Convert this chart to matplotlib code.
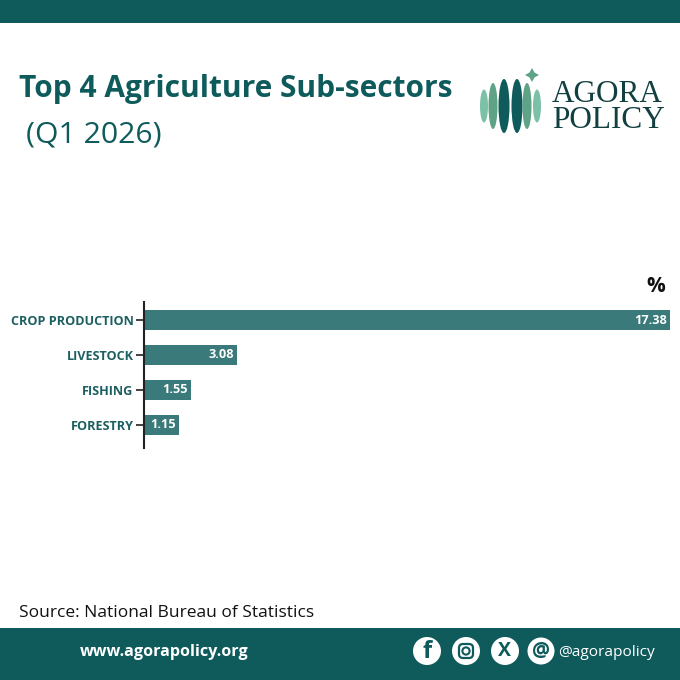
import matplotlib
matplotlib.use('Agg')
import matplotlib.pyplot as plt
from matplotlib.patches import Ellipse, Circle, Rectangle, FancyBboxPatch, Polygon

categories = ['CROP PRODUCTION', 'LIVESTOCK', 'FISHING', 'FORESTRY']
values = [17.38, 3.08, 1.55, 1.15]
value_labels = ['17.38', '3.08', '1.55', '1.15']

DARK = '#0f5b5c'
BAR = '#3a7a7a'
LABEL = '#1c5f60'
plt.rcParams['font.family'] = ['Open Sans', 'DejaVu Sans']

fig = plt.figure(figsize=(6.8, 6.8), dpi=100)

# page layer in pixel coordinates
bg = fig.add_axes([0, 0, 1, 1])
bg.set_xlim(0, 680)
bg.set_ylim(680, 0)
bg.axis('off')
bg.add_patch(Rectangle((0, 0), 680, 23, color=DARK, lw=0))
bg.add_patch(Rectangle((0, 628), 680, 52, color=DARK, lw=0))

bg.text(19, 89, 'Top 4 Agriculture Sub-sectors', fontsize=21.5, fontweight='bold',
        color=DARK, va='center', ha='left')
bg.text(26, 135, '(Q1 2026)', fontsize=21.7, color=DARK, va='center', ha='left')
bg.text(19, 613, 'Source: National Bureau of Statistics', fontsize=12.5,
        color='#111111', va='center', ha='left')
bg.text(80, 652, 'www.agorapolicy.org', fontsize=11.6, fontweight='bold',
        color='white', va='center', ha='left')
bg.text(558, 652, '@agorapolicy', fontsize=11.1, color='white', va='center', ha='left')

# logo
for x, w, h, c in [(484, 8, 33, '#7cc0a8'), (493, 9, 46, '#5fa386'), (504, 11, 54, '#0f5b5c'),
                   (517, 11, 54, '#0f5b5c'), (527, 9, 46, '#5fa386'), (537, 8, 33, '#7cc0a8')]:
    bg.add_patch(Ellipse((x, 106), w, h, color=c, lw=0))
bg.add_patch(Polygon([(532, 68), (534.5, 72.5), (539, 75), (534.5, 77.5), (532, 82),
                      (529.5, 77.5), (525, 75), (529.5, 72.5)], color='#5fa386', lw=0))
bg.text(552, 128, 'AGORA\nPOLICY', family='Liberation Serif', fontsize=22.5, color='#123f40',
        va='baseline', ha='left', linespacing=0.85)

# social icons
for x in [427, 466, 505]:
    bg.add_patch(Circle((x, 651), 14, color='white', lw=0))
bg.add_patch(Circle((541, 651), 13.5, color='white', lw=0))
bg.text(427, 652, 'f', fontsize=17, fontweight='bold', color=DARK, ha='center', va='center')
bg.add_patch(FancyBboxPatch((459, 644), 14, 14, boxstyle='round,pad=0,rounding_size=4',
                            fc='none', ec=DARK, lw=1.6))
bg.add_patch(Circle((466, 651), 3.6, fc='none', ec=DARK, lw=1.5))
bg.text(505, 651, 'X', fontsize=14, fontweight='bold', color=DARK, ha='center', va='center')
bg.text(541, 650.5, '@', fontsize=14.5, fontweight='bold', color=DARK, ha='center', va='center')

# chart: 30.24 px per unit, 35 px per row
ax = fig.add_axes([144 / 680, 1 - 448 / 680, 536 / 680, 146 / 680])
ax.patch.set_alpha(0)
ax.barh(categories, values, height=0.59, color=BAR)
ax.set_xlim(0, 536 / 30.24)
ax.set_ylim(3.66, -0.515)
for s in ['top', 'right', 'bottom']:
    ax.spines[s].set_visible(False)
ax.spines['left'].set_linewidth(1.5)
ax.spines['left'].set_color('#222222')
ax.xaxis.set_visible(False)
ax.tick_params(axis='y', length=6, width=1.3, color='#333333', pad=1.5)
for lab in ax.get_yticklabels():
    lab.set_fontsize(9.1)
    lab.set_fontweight('bold')
    lab.set_color(LABEL)
for i, v in enumerate(values):
    ax.annotate(value_labels[i], (v, i), xytext=(-2, 0), textcoords='offset points',
                ha='right', va='center', color='white', fontsize=9.2, fontweight='bold')

bg.text(656, 286, '%', fontsize=15, fontweight='bold', color='#111111', ha='center', va='center')

fig.savefig('out.png', dpi=100)
